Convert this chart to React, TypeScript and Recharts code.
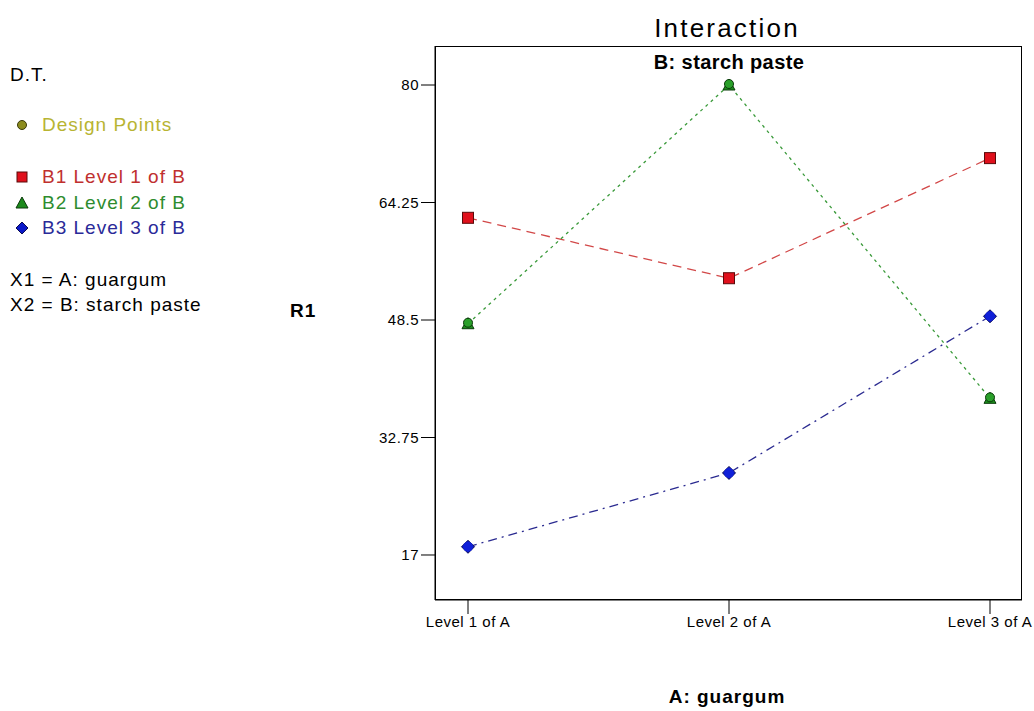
import React from 'react';
import { LineChart, Line, XAxis, YAxis } from 'recharts';

const levelsA = ['Level 1 of A', 'Level 2 of A', 'Level 3 of A'];
const b1Values = [62.2, 54.1, 70.2];
const b2Values = [48.0, 80.0, 38.0];
const b3Values = [18.1, 28.0, 49.0];
const yTicks = [17, 32.75, 48.5, 64.25, 80];

const data = levelsA.map((level, i) => ({
    level,
    b1: b1Values[i],
    b2: b2Values[i],
    b3: b3Values[i],
}));

const FONT = '"Liberation Sans", Arial, sans-serif';

const SquareDot = (props: any) => {
    const { cx, cy } = props;
    return <rect x={cx - 5.5} y={cy - 5.5} width={11} height={11} fill="#e0101c" stroke="#5a0a0a" strokeWidth={1} />;
};

const TriangleDot = (props: any) => {
    const { cx, cy } = props;
    return (
        <g>
            <polygon points={`${cx},${cy - 6} ${cx + 6},${cy + 5} ${cx - 6},${cy + 5}`} fill="#1c8f1c" stroke="#0a3a0a" strokeWidth={1} />
            <circle cx={cx} cy={cy - 1} r={4.5} fill="#2aa02a" stroke="#0a3a0a" strokeWidth={1} />
        </g>
    );
};

const DiamondDot = (props: any) => {
    const { cx, cy } = props;
    return (
        <g>
            <polygon points={`${cx},${cy - 6.5} ${cx + 6.5},${cy} ${cx},${cy + 6.5} ${cx - 6.5},${cy}`} fill="#0a18c8" stroke="#0a0a50" strokeWidth={1} />
            <circle cx={cx} cy={cy} r={5} fill="#1020d8" />
        </g>
    );
};

const Label: React.FC<{ top: number; left?: number; center?: number; size: number; bold?: boolean; color?: string; spacing?: number; children: React.ReactNode }> = ({
    top,
    left,
    center,
    size,
    bold,
    color = '#000',
    spacing = 0,
    children,
}) => (
    <div
        style={{
            position: 'absolute',
            top: top - size * 0.6,
            left: center !== undefined ? center - 300 : left,
            width: center !== undefined ? 600 : undefined,
            textAlign: center !== undefined ? 'center' : 'left',
            fontFamily: FONT,
            fontSize: size,
            lineHeight: `${size * 1.2}px`,
            fontWeight: bold ? 'bold' : 'normal',
            color,
            letterSpacing: spacing,
            whiteSpace: 'nowrap',
        }}
    >
        {children}
    </div>
);

const LegendIcon: React.FC<{ top: number; children: React.ReactNode }> = ({ top, children }) => (
    <svg width={16} height={16} style={{ position: 'absolute', left: 14, top: top - 8 }}>
        {children}
    </svg>
);

const App: React.FC = () => {
    return (
        <div style={{ position: 'absolute', left: 0, top: 0, width: 1034, height: 711, background: '#fff' }}>
            <LineChart width={1034} height={711} data={data} margin={{ top: 46, right: 12, bottom: 61, left: 0 }}>
                <XAxis
                    dataKey="level"
                    height={50}
                    padding={{ left: 33, right: 32 }}
                    stroke="#000"
                    tickLine={{ stroke: '#000' }}
                    tickSize={14}
                    tick={{ fill: '#000', fontSize: 15, fontFamily: FONT, letterSpacing: 0.5 }}
                    interval={0}
                />
                <YAxis
                    width={435}
                    domain={[10.968, 85.228]}
                    ticks={yTicks}
                    type="number"
                    stroke="#000"
                    tickSize={14}
                    tick={{ fill: '#000', fontSize: 15, fontFamily: FONT, letterSpacing: 0.5 }}
                    allowDataOverflow
                />
                <Line
                    type="linear"
                    dataKey="b1"
                    stroke="#d24848"
                    strokeWidth={1.3}
                    strokeDasharray="9 6"
                    dot={<SquareDot />}
                    activeDot={false}
                    isAnimationActive={false}
                />
                <Line
                    type="linear"
                    dataKey="b2"
                    stroke="#3a9a3a"
                    strokeWidth={1.3}
                    strokeDasharray="3 4"
                    dot={<TriangleDot />}
                    activeDot={false}
                    isAnimationActive={false}
                />
                <Line
                    type="linear"
                    dataKey="b3"
                    stroke="#2a2a90"
                    strokeWidth={1.3}
                    strokeDasharray="9 5 2 5"
                    dot={<DiamondDot />}
                    activeDot={false}
                    isAnimationActive={false}
                />
            </LineChart>

            {/* plot frame */}
            <div
                style={{
                    position: 'absolute',
                    left: 435,
                    top: 46,
                    width: 587,
                    height: 554,
                    border: '1px solid #000',
                    boxSizing: 'border-box',
                    pointerEvents: 'none',
                }}
            />

            <Label top={29} center={727} size={26} spacing={2.2}>Interaction</Label>
            <Label top={62} center={729} size={20} bold spacing={0.4}>B: starch paste</Label>
            <Label top={311} left={290} size={19} bold spacing={1}>R1</Label>
            <Label top={697} center={727} size={19} bold spacing={1}>A: guargum</Label>

            <Label top={75} left={10} size={19} spacing={1}>D.T.</Label>
            <LegendIcon top={125}>
                <circle cx={8} cy={8} r={4.5} fill="#8c8c1e" stroke="#3a3a0a" strokeWidth={1} />
            </LegendIcon>
            <Label top={125} left={42} size={19} color="#b8b432" spacing={1}>Design Points</Label>

            <LegendIcon top={177}>
                <rect x={3} y={3} width={10} height={10} fill="#e0101c" stroke="#5a0a0a" strokeWidth={1} />
            </LegendIcon>
            <Label top={177} left={42} size={19} color="#c0302e" spacing={1}>B1 Level 1 of B</Label>
            <LegendIcon top={203}>
                <polygon points="8,2 14,13 2,13" fill="#1c8a1c" stroke="#0a3a0a" strokeWidth={1} />
            </LegendIcon>
            <Label top={203} left={42} size={19} color="#2e8c2e" spacing={1}>B2 Level 2 of B</Label>
            <LegendIcon top={228}>
                <polygon points="8,2 14,8 8,14 2,8" fill="#0a18c8" stroke="#0a0a50" strokeWidth={1} />
            </LegendIcon>
            <Label top={228} left={42} size={19} color="#2a2a98" spacing={1}>B3 Level 3 of B</Label>

            <Label top={280} left={10} size={19} spacing={1}>X1 = A: guargum</Label>
            <Label top={305} left={10} size={19} spacing={1}>X2 = B: starch paste</Label>
        </div>
    );
};

export default App;
